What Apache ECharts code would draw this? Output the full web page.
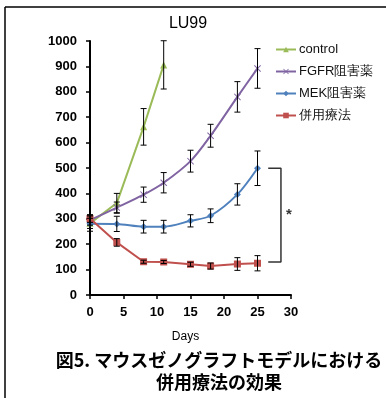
<!DOCTYPE html>
<html><head><meta charset="utf-8">
<script src="https://cdn.jsdelivr.net/npm/echarts@6/dist/echarts.min.js"></script>
<style>html,body{margin:0;padding:0;background:#fff}#c{width:387px;height:398px}</style>
</head><body><div id="c"></div>
<script>
var days = [0, 4, 8, 11, 15, 18, 22, 25];
var controlVals = [282, 362, 662, 906];
var controlErr  = [20, 38, 72, 95];
var fgfrVals = [295, 344, 395, 442, 527, 627, 780, 892];
var fgfrErr  = [20, 22, 30, 40, 43, 45, 60, 78];
var mekVals = [281, 280, 269, 269, 292, 312, 396, 499];
var mekErr  = [30, 30, 25, 25, 24, 27, 42, 68];
var comboVals = [301, 207, 131, 130, 121, 114, 122, 125];
var comboErr  = [15, 15, 6, 6, 8, 12, 25, 30];
var seriesNames = ['control', 'FGFR阻害薬', 'MEK阻害薬', '併用療法'];
var yTicks = [0, 1000, 100];
var xTicks = [0, 30, 5];
var bracketX = [26.6, 28.5];
var bracketY = [499, 130];
var caption1 = '図5. マウスゼノグラフトモデルにおける';
var caption2 = '併用療法の効果';

function pairs(vals){ return vals.map(function(v,i){ return [days[i], v]; }); }
function errData(vals, err){ return vals.map(function(v,i){ return [days[i], v - err[i], v + err[i]]; }); }

var colors = ['#9BBB59', '#8064A2', '#4F81BD', '#C0504D'];
var xSym = 'path://M1,0L5,4L9,0L10,1L6,5L10,9L9,10L5,6L1,10L0,9L4,5L0,1Z';

function errSeries(vals, err){
  return {
    type: 'custom', silent: true, z: 5,
    data: errData(vals, err),
    renderItem: function(params, api){
      var x = api.value(0);
      var lo = api.coord([x, api.value(1)]);
      var hi = api.coord([x, api.value(2)]);
      var w = 3;
      var st = {stroke: '#000', lineWidth: 1};
      return {type: 'group', children: [
        {type: 'line', shape: {x1: lo[0], y1: lo[1], x2: hi[0], y2: hi[1]}, style: st},
        {type: 'line', shape: {x1: lo[0]-w, y1: lo[1], x2: lo[0]+w, y2: lo[1]}, style: st},
        {type: 'line', shape: {x1: hi[0]-w, y1: hi[1], x2: hi[0]+w, y2: hi[1]}, style: st}
      ]};
    }
  };
}

var chart = echarts.init(document.getElementById('c'));
chart.setOption({
  animation: false,
  color: colors,
  title: {
    text: 'LU99', left: 183, top: 11, textAlign: 'center',
    textStyle: {fontSize: 16, fontWeight: 'normal', color: '#000', fontFamily: 'Liberation Sans'}
  },
  legend: {
    data: seriesNames, orient: 'vertical', left: 270, top: 38,
    itemWidth: 20, itemHeight: 7, itemGap: 9,
    textStyle: {fontSize: 13, color: '#111', fontFamily: 'Liberation Sans', padding: [0,0,0,-2]}
  },
  grid: {left: 90, top: 41, width: 201, height: 254, containLabel: false},
  xAxis: {
    type: 'value', min: xTicks[0], max: xTicks[1], interval: xTicks[2],
    name: 'Days', nameLocation: 'middle', nameGap: 36,
    nameTextStyle: {fontSize: 12, color: '#000', fontFamily: 'Liberation Sans', padding: [0,10,0,0]},
    axisLine: {lineStyle: {color: '#000', width: 2}},
    axisTick: {show: true, length: 4, lineStyle: {color: '#000', width: 1.5}},
    axisLabel: {fontSize: 13, fontWeight: 'bold', color: '#000', fontFamily: 'Liberation Sans', margin: 11},
    splitLine: {show: false}
  },
  yAxis: {
    type: 'value', min: yTicks[0], max: yTicks[1], interval: yTicks[2],
    axisLine: {show: true, lineStyle: {color: '#000', width: 2}},
    axisTick: {show: true, length: 4, lineStyle: {color: '#000', width: 1.5}},
    axisLabel: {fontSize: 13, fontWeight: 'bold', color: '#000', fontFamily: 'Liberation Sans', margin: 13,
      formatter: function(v){ return String(v); }},
    splitLine: {show: false}
  },
  series: [
    {name: seriesNames[0], type: 'line', data: pairs(controlVals), symbol: 'triangle', symbolSize: 7,
     lineStyle: {width: 2}, z: 3},
    {name: seriesNames[1], type: 'line', data: pairs(fgfrVals), symbol: xSym, symbolSize: 7, smooth: 0.3,
     lineStyle: {width: 2}, z: 3},
    {name: seriesNames[2], type: 'line', data: pairs(mekVals), symbol: 'diamond', symbolSize: 7, smooth: 0.3,
     lineStyle: {width: 2}, z: 3},
    {name: seriesNames[3], type: 'line', data: pairs(comboVals), symbol: 'rect', symbolSize: 7,
     lineStyle: {width: 2}, z: 4},
    errSeries(controlVals, controlErr),
    errSeries(fgfrVals, fgfrErr),
    errSeries(mekVals, mekErr),
    errSeries(comboVals, comboErr),
    {type: 'line', silent: true, symbol: 'none', z: 2,
     data: [[bracketX[0], bracketY[0]], [bracketX[1], bracketY[0]], [bracketX[1], bracketY[1]], [bracketX[0], bracketY[1]]],
     lineStyle: {color: '#333', width: 1.5}},
    {type: 'scatter', silent: true, symbolSize: 0,
     data: [[(bracketX[1] + 1.2), (bracketY[0] + bracketY[1]) / 2]],
     label: {show: true, formatter: '*', position: 'inside', fontSize: 15, fontWeight: 'bold', color: '#000', fontFamily: 'Liberation Sans'}}
  ],
  graphic: [
    {type: 'line', shape: {x1: 5, y1: 7, x2: 386, y2: 7}, style: {stroke: '#000', lineWidth: 1.5}},
    {type: 'line', shape: {x1: 5, y1: 7, x2: 5, y2: 398}, style: {stroke: '#000', lineWidth: 1.5}},
    {type: 'text', x: 219, y: 360, style: {text: caption1, align: 'center', verticalAlign: 'middle',
      font: 'bold 18px "Noto Sans CJK JP"', fill: '#000'}},
    {type: 'text', x: 219, y: 382, style: {text: caption2, align: 'center', verticalAlign: 'middle',
      font: 'bold 18px "Noto Sans CJK JP"', fill: '#000'}}
  ]
});
</script></body></html>
